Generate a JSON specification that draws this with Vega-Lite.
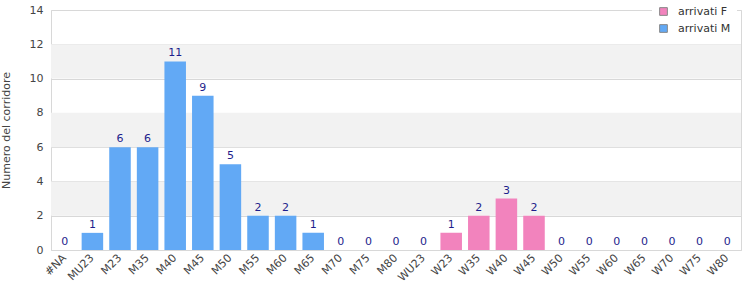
{
  "$schema": "https://vega.github.io/schema/vega-lite/v6.json",
  "width": 690,
  "height": 240,
  "autosize": {"type": "none"},
  "padding": {"left": 51, "top": 10, "right": 9, "bottom": 50},
  "background": "white",
  "config": {
    "font": "DejaVu Sans",
    "view": {"stroke": "#d8d8d8", "strokeWidth": 1},
    "axis": {"labelFont": "DejaVu Sans", "titleFont": "DejaVu Sans", "labelColor": "#444", "titleColor": "#444", "labelFontSize": 11, "titleFontSize": 11, "titleFontWeight": "normal", "gridColor": "#d8d8d8", "domainColor": "#d8d8d8", "ticks": false}
  },
  "datasets": {
    "bars": [
      {"cat": "#NA", "n": 0, "serie": "arrivati M"},
      {"cat": "MU23", "n": 1, "serie": "arrivati M"},
      {"cat": "M23", "n": 6, "serie": "arrivati M"},
      {"cat": "M35", "n": 6, "serie": "arrivati M"},
      {"cat": "M40", "n": 11, "serie": "arrivati M"},
      {"cat": "M45", "n": 9, "serie": "arrivati M"},
      {"cat": "M50", "n": 5, "serie": "arrivati M"},
      {"cat": "M55", "n": 2, "serie": "arrivati M"},
      {"cat": "M60", "n": 2, "serie": "arrivati M"},
      {"cat": "M65", "n": 1, "serie": "arrivati M"},
      {"cat": "M70", "n": 0, "serie": "arrivati M"},
      {"cat": "M75", "n": 0, "serie": "arrivati M"},
      {"cat": "M80", "n": 0, "serie": "arrivati M"},
      {"cat": "WU23", "n": 0, "serie": "arrivati F"},
      {"cat": "W23", "n": 1, "serie": "arrivati F"},
      {"cat": "W35", "n": 2, "serie": "arrivati F"},
      {"cat": "W40", "n": 3, "serie": "arrivati F"},
      {"cat": "W45", "n": 2, "serie": "arrivati F"},
      {"cat": "W50", "n": 0, "serie": "arrivati F"},
      {"cat": "W55", "n": 0, "serie": "arrivati F"},
      {"cat": "W60", "n": 0, "serie": "arrivati F"},
      {"cat": "W65", "n": 0, "serie": "arrivati F"},
      {"cat": "W70", "n": 0, "serie": "arrivati F"},
      {"cat": "W75", "n": 0, "serie": "arrivati F"},
      {"cat": "W80", "n": 0, "serie": "arrivati F"}
    ],
    "bands": [
      {"lo": 2, "hi": 4},
      {"lo": 6, "hi": 8},
      {"lo": 10, "hi": 12}
    ]
  },
  "resolve": {"axis": {"y": "independent"}},
  "layer": [
    {
      "data": {"name": "bands"},
      "mark": {"type": "rect", "color": "#f2f2f2"},
      "encoding": {
        "y": {"field": "lo", "type": "quantitative", "scale": {"domain": [0, 14]}, "axis": null},
        "y2": {"field": "hi"}
      }
    },
    {
      "data": {"name": "bars"},
      "encoding": {
        "x": {"field": "cat", "type": "nominal", "sort": null, "scale": {"paddingInner": 0.22, "paddingOuter": 0.11},
              "axis": {"title": null, "labelAngle": -45, "labelAlign": "right", "labelBaseline": "middle", "labelPadding": 6, "domain": true}},
        "y": {"field": "n", "type": "quantitative", "scale": {"domain": [0, 14]},
              "axis": {"title": "Numero del corridore", "values": [0, 2, 4, 6, 8, 10, 12, 14], "labelOverlap": false, "labelPadding": 8, "titlePadding": 18, "domain": false, "grid": true}}
      },
      "layer": [
        {
          "mark": {"type": "bar"},
          "encoding": {
            "color": {"field": "serie", "type": "nominal",
              "scale": {"domain": ["arrivati F", "arrivati M"], "range": ["#f283bd", "#62a9f5"]},
              "legend": {"title": null, "orient": "none", "legendX": 601, "legendY": -10, "fillColor": "white", "padding": 6,
                         "symbolType": "square", "symbolSize": 60, "symbolStrokeColor": "#888", "symbolStrokeWidth": 1,
                         "labelFont": "DejaVu Sans", "labelFontSize": 11, "labelColor": "#333", "rowPadding": 4, "labelOffset": 9}}
          }
        },
        {
          "mark": {"type": "text", "baseline": "bottom", "dy": -3, "fontSize": 11, "color": "#1e1e8c", "font": "DejaVu Sans"},
          "encoding": {"text": {"field": "n", "type": "quantitative"}}
        }
      ]
    }
  ]
}
